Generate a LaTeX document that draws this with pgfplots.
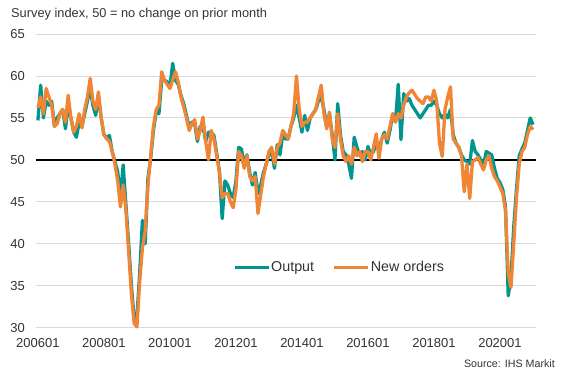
\documentclass[border=0pt]{standalone}
\usepackage{pgfplots}
\usepackage{pgfplotstable}
\pgfplotsset{compat=1.18}
\usepackage{fontspec}
\setmainfont{Liberation Sans}
\definecolor{teal1}{RGB}{0,150,143}
\definecolor{orange1}{RGB}{240,133,54}
\definecolor{txt}{RGB}{50,50,50}

\pgfplotstableread{
m out ord
0 54.7 56.2
1 58.9 57.5
2 55.0 55.5
3 57.0 58.5
4 56.5 57.5
5 57.0 56.5
6 54.0 54.0
7 55.0 54.3
8 55.5 55.5
9 56.0 56.0
10 53.7 54.5
11 56.5 57.7
12 55.0 55.0
13 53.3 53.3
14 52.7 54.0
15 54.5 55.5
16 54.0 53.8
17 55.5 56.0
18 57.0 57.5
19 58.5 59.7
20 56.5 57.0
21 55.3 56.0
22 57.5 58.1
23 55.0 55.0
24 53.0 53.0
25 52.7 52.5
26 52.9 52.2
27 51.0 51.0
28 49.8 49.5
29 48.6 47.5
30 45.5 44.4
31 49.4 47.0
32 44.6 44.0
33 40.0 39.0
34 35.0 34.0
35 31.0 30.5
36 31.3 30.1
37 36.5 35.5
38 42.8 39.5
39 40.0 41.5
40 47.8 47.0
41 50.2 50.5
42 53.5 54.0
43 55.7 56.0
44 55.5 56.5
45 59.5 60.5
46 59.5 59.5
47 59.3 59.0
48 58.7 58.5
49 61.5 59.5
50 59.5 60.5
51 59.0 59.3
52 57.7 57.5
53 56.7 56.3
54 55.3 55.0
55 53.9 53.5
56 54.5 54.3
57 54.3 54.8
58 52.2 52.5
59 54.0 53.5
60 54.0 55.1
61 52.2 52.2
62 53.3 50.0
63 53.3 53.5
64 52.9 52.5
65 50.8 50.5
66 48.6 48.5
67 43.0 45.5
68 47.5 46.0
69 47.0 46.0
70 46.0 45.0
71 45.5 44.3
72 47.5 46.5
73 51.5 51.0
74 51.3 50.5
75 49.5 49.0
76 50.6 50.5
77 48.5 48.0
78 47.0 47.5
79 48.5 48.0
80 46.0 43.6
81 47.0 45.8
82 48.5 48.0
83 49.5 49.5
84 50.6 51.0
85 51.0 51.5
86 49.0 49.5
87 51.8 51.5
88 50.6 52.0
89 53.0 53.5
90 52.5 53.0
91 52.5 52.5
92 54.0 54.0
93 55.0 55.5
94 56.5 60.0
95 55.0 56.0
96 53.3 54.0
97 55.3 54.5
98 53.5 54.5
99 55.0 55.0
100 55.5 55.5
101 56.0 56.0
102 57.0 57.5
103 57.5 58.9
104 56.0 55.5
105 54.0 53.7
106 55.5 55.7
107 53.0 52.5
108 50.0 51.5
109 56.7 55.5
110 53.0 52.5
111 51.0 50.5
112 50.6 49.8
113 49.5 50.5
114 47.8 49.5
115 52.7 51.5
116 51.5 50.5
117 50.5 51.0
118 51.0 49.8
119 50.0 51.0
120 51.6 51.0
121 50.6 50.0
122 51.0 51.5
123 52.0 53.1
124 51.0 50.2
125 52.5 52.5
126 53.3 53.0
127 52.0 52.5
128 53.5 54.0
129 55.5 55.5
130 54.5 54.5
131 59.0 55.5
132 52.4 55.0
133 57.9 56.5
134 57.0 57.5
135 57.3 58.0
136 56.5 58.3
137 56.0 57.8
138 55.5 57.3
139 55.0 57.0
140 55.5 56.7
141 56.0 57.5
142 56.5 57.5
143 56.5 57.0
144 57.0 58.3
145 56.5 57.0
146 55.5 52.0
147 55.0 50.4
148 55.5 56.0
149 55.0 57.5
150 56.0 58.7
151 53.0 52.5
152 52.0 52.0
153 51.5 51.5
154 50.6 50.5
155 50.0 46.2
156 49.8 49.5
157 49.5 45.4
158 52.3 49.8
159 51.0 50.0
160 50.6 50.3
161 50.0 49.5
162 49.3 48.8
163 51.0 50.0
164 50.8 50.5
165 50.6 49.0
166 49.0 48.0
167 47.8 47.5
168 47.3 46.8
169 46.5 46.0
170 44.5 44.0
171 33.8 36.5
172 36.0 34.8
173 42.0 40.0
174 46.5 45.5
175 50.5 49.5
176 51.3 51.0
177 52.0 51.5
178 53.5 53.0
179 55.0 54.0
180 54.2 53.6
}\datatable

\begin{document}
\begin{tikzpicture}
\begin{axis}[
  width=500bp, height=293.7bp, scale only axis,
  xmin=-0.7, xmax=181.1, ymin=30, ymax=65,
  clip=false,
  axis line style={draw=none},
  major tick length=0pt,
  ytick={30,35,...,65},
  xtick={0,24,...,168},
  xticklabels={200601,200801,201001,201201,201401,201601,201801,202001},
  ymajorgrids,
  grid style={color=black!15, line width=0.9bp},
  /pgf/number format/assume math mode=true,
  tick label style={font=\fontsize{13bp}{15bp}\selectfont, text=txt, inner sep=0pt},
  yticklabel shift=11bp,
  xticklabel shift=10.5bp,
  legend style={at={(axis cs:70.9,37.2)}, anchor=west, draw=none, fill=none,
    inner sep=0pt, font=\fontsize{14.3bp}{17bp}\selectfont, text=txt,
    nodes={inner sep=0.6bp},
    /tikz/every even column/.append style={column sep=18bp}},
  legend columns=-1,
  legend image code/.code={\draw[#1, line width=3.5bp] (0bp,0bp) -- (34bp,0bp);},
]
\addplot[black, line width=1.8bp, forget plot] coordinates {(-0.7,50) (181.1,50)};
\addplot[teal1, line width=3.3bp, line join=round] table[x=m, y=out] {\datatable};
\addlegendentry{Output}
\addplot[orange1, line width=3.3bp, line join=round] table[x=m, y=ord] {\datatable};
\addlegendentry{New orders}
\end{axis}
\node[anchor=base west, font=\fontsize{12.8bp}{15bp}\selectfont, text=txt, inner sep=0pt]
  at ([xshift=-25bp, yshift=16.5bp]current axis.north west) {Survey index, 50 = no change on prior month};
\node[anchor=base east, font=\fontsize{10.7bp}{13bp}\selectfont, text=txt, inner sep=0pt]
  at ([xshift=19bp, yshift=-39.5bp]current axis.south east) {Source: IHS Markit};
\path ([xshift=-36bp, yshift=-44.3bp]current axis.south west) rectangle ([xshift=31bp, yshift=34bp]current axis.north east);
\end{tikzpicture}
\end{document}
